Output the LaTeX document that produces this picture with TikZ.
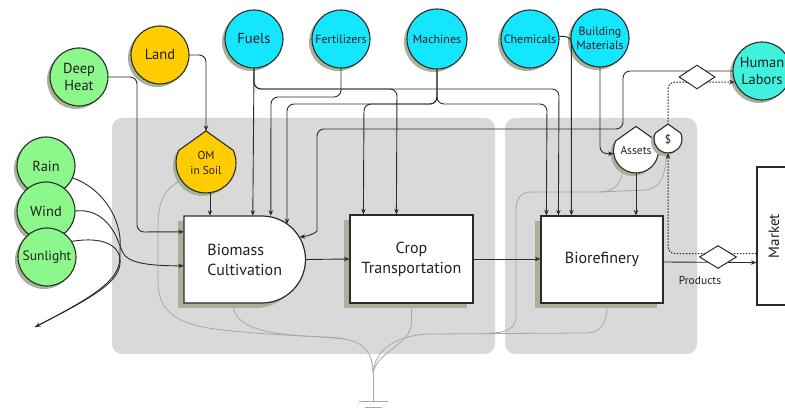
\documentclass[tikz,border=0pt]{standalone}
\usepackage{fontspec}
\setmainfont{PT Sans}
\usetikzlibrary{arrows.meta,calc,shadows,shapes.geometric}

\definecolor{lnc}{HTML}{2B2B2B}
\definecolor{txc}{HTML}{231F20}
\definecolor{grn}{HTML}{8CF88C}
\definecolor{ylw}{HTML}{FFCC00}
\definecolor{cyn}{HTML}{14E6FF}
\definecolor{hlc}{HTML}{40F2DE}
\definecolor{pnl}{HTML}{D9D9D9}
\definecolor{shc}{HTML}{A8B298}
\definecolor{gln}{HTML}{A8A8A8}

\pgfdeclarelayer{back}
\pgfdeclarelayer{mid}
\pgfsetlayers{back,mid,main}

\tikzset{
  csh/.style={drop shadow={shadow xshift=-3pt,shadow yshift=-3pt,opacity=1,fill=shc}},
  bsh/.style={drop shadow={shadow xshift=-6pt,shadow yshift=-5pt,opacity=1,fill=shc}},
  src/.style={circle,draw=lnc,line width=1.1pt,minimum size=58pt,inner sep=0pt,
    align=center,text=txc,csh},
  bigl/.style={font=\fontsize{14.5}{17.5}\selectfont},
  smalll/.style={font=\fontsize{12}{14}\selectfont},
  procbox/.style={rectangle,draw=lnc,line width=1.2pt,fill=white,inner sep=0pt,
    align=center,text=txc,font=\fontsize{16}{20}\selectfont},
  lbl/.style={inner sep=0pt,align=center,text=txc},
  flow/.style={draw=lnc,line width=0.9pt,rounded corners=7pt,
    -{Stealth[length=5.5pt,width=4.5pt]}},
  money/.style={draw=lnc,line width=1pt,dash pattern=on 1.5pt off 1.5pt,
    rounded corners=7pt,-{Stealth[length=5.5pt,width=4.5pt]}},
  heat/.style={draw=gln,line width=0.8pt},
  xchg/.style={diamond,draw=lnc,fill=white,line width=1pt,inner sep=0pt},
  tank/.style={draw=lnc,line width=1.1pt,csh}
}

% storage shape: round bottom with a pointed roof
\newcommand\tankat[4]{%
  \path[tank,fill=#4] ({#1+#3*cos(155)},{#2+#3*sin(155)})
    arc[start angle=155,end angle=385,radius=#3] -- (#1,{#2+1.07*#3}) -- cycle;}

\begin{document}
\begin{tikzpicture}[x=1pt,y=1pt]
\useasboundingbox (0,0) rectangle (785,-411);

% sector panels
\begin{pgfonlayer}{back}
  \fill[pnl,rounded corners=10pt] (112,-118) rectangle (495,-354);
  \fill[pnl,rounded corners=10pt] (505,-118) rectangle (697,-354);
\end{pgfonlayer}

% sources
\node[src,fill=grn,bigl]   (DH)    at (79,-77)  {Deep\\Heat};
\node[src,fill=ylw,bigl]   (Land)  at (160,-55) {Land};
\node[src,fill=cyn,bigl]   (Fuels) at (254,-39) {Fuels};
\node[src,fill=cyn,smalll] (Fert)  at (341,-39) {Fertilizers};
\node[src,fill=cyn,smalll,minimum size=60pt] (Mach) at (437,-39) {Machines};
\node[src,fill=cyn,smalll] (Chem)  at (530,-39) {Chemicals};
\node[src,fill=cyn,smalll] (BM)    at (600,-38) {Building\\Materials};
\node[src,fill=hlc,bigl]   (HL)    at (762,-71) {Human\\Labors};
\node[src,fill=grn,bigl]   (Rain)  at (46,-166) {Rain};
\node[src,fill=grn,bigl]   (Wind)  at (46,-211) {Wind};
\node[src,fill=grn,font=\fontsize{13.5}{15}\selectfont] (Sun) at (47,-257) {Sunlight};

% storages
\tankat{206}{-163}{30}{ylw}
\node[lbl,circle,minimum size=60pt,font=\fontsize{11.5}{15}\selectfont] (OM) at (206,-163) {OM\\in Soil};
\coordinate (OMtop) at (206,-131);
\tankat{636}{-150.5}{22.5}{white}
\node[lbl,circle,minimum size=45pt,font=\fontsize{11.5}{13}\selectfont] (Assets) at (636,-150.5) {Assets};
\tankat{668}{-139}{14}{white}
\node[lbl,circle,minimum size=28pt,font=\fontsize{11.5}{13}\selectfont] (Dollar) at (668,-139) {\$};

% processes
\path[draw=lnc,line width=1.2pt,fill=white,bsh] (184,-216) -- (262,-216)
  .. controls (286,-216) and (305.5,-235.5) .. (305.5,-259.5)
  .. controls (305.5,-283.5) and (286,-303) .. (262,-303) -- (184,-303) -- cycle;
\node[lbl,align=left,minimum width=121.5pt,minimum height=87pt,
  font=\fontsize{16}{20}\selectfont] (Bio) at (244.75,-259.5) {Biomass\\Cultivation};
\node[procbox,bsh,minimum width=123pt,minimum height=88pt] (Crop) at (411.5,-259) {Crop\\Transportation};
\node[procbox,bsh,minimum width=122pt,minimum height=87pt] (Ref) at (602,-259.5) {Biorefinery};
\node[procbox,minimum width=34pt,minimum height=138pt,font=\fontsize{15}{18}\selectfont]
  (Market) at (774,-236) {\rotatebox{90}{Market}};

% ports on the process boxes
\coordinate (bioA) at ($(Bio.north west)+(69,0)$);
\coordinate (bioB) at ($(Bio.north west)+(87,0)$);
\coordinate (bioC) at (287,-224);
\coordinate (bioD) at (299.5,-237);
\coordinate (bioE) at ($(Bio.north west)+(0,-16)$);
\coordinate (bioF) at ($(Bio.north west)+(0,-50)$);
\coordinate (cropA) at ($(Crop.north west)+(14,0)$);
\coordinate (cropB) at ($(Crop.north west)+(47,0)$);
\coordinate (refA) at ($(Ref.north west)+(6,0)$);
\coordinate (refB) at ($(Ref.north west)+(18,0)$);
\coordinate (refC) at ($(Ref.north west)+(31,0)$);
\coordinate (mktIn) at ($(Market.south west)+(0,43)$);
\coordinate (mktOut) at ($(Market.south west)+(0,52)$);
\coordinate (omOut) at ($(OM.south)+(4,0)$);
\coordinate (sink) at (35,-327);
\coordinate (gnd) at (373,-373);

% dissipation to ground
\begin{pgfonlayer}{mid}
  \draw[heat] (OM.215) .. controls (162,-190) and (158,-205) .. (158,-228)
    -- (158,-282) .. controls (158,-312) and (178,-324) .. (215,-329)
    .. controls (260,-335) and (320,-336) .. (345,-339)
    .. controls (366,-343) and (373,-355) .. (gnd);
  \draw[heat] ($(Bio.south west)+(49,0)$) .. controls (233,-318) and (245,-328) .. (275,-333)
    .. controls (310,-338) and (330,-336) .. (345,-339);
  \draw[heat] (Crop.south) -- (411.5,-322) .. controls (411.5,-345) and (378,-350) .. (gnd);
  \draw[heat] ($(Ref.south)+(5,0)$) .. controls (607,-325) and (600,-333) .. (585,-333)
    -- (430,-334) .. controls (395,-335) and (375,-350) .. (gnd);
  \draw[heat] (Assets.235) .. controls (622,-182) and (616,-191) .. (600,-192)
    -- (532,-192) .. controls (521,-192) and (516,-198) .. (516,-210)
    -- (516,-316) .. controls (516,-328) and (507,-333) .. (490,-333);
  \draw[heat] (Dollar.265) .. controls (665,-175) and (662,-188) .. (645,-190)
    -- (600,-192);
  \draw[heat] (gnd) -- (373,-401);
  \draw[heat] (359,-401) -- (388,-401);
  \draw[heat] (365,-407) -- (382,-407);
\end{pgfonlayer}

% renewable inputs
\draw[flow] (Rain.336) .. controls (106,-190) and (121,-222) .. (120,-252)
  .. controls (119,-280) and (95,-296) .. (sink);
\draw[flow] (Wind.east) .. controls (100,-208) and (113,-228) .. (120,-246)
  .. controls (127,-262) and (145,-266) .. (bioF);
\draw[draw=lnc,line width=0.9pt] (Sun.32) .. controls (104,-236) and (122,-246) .. (120,-264)
  .. controls (118,-282) and (96,-296) .. (sink);
\draw[flow] (DH.east) -| (137,-232) -- (bioE);
\draw[flow] (Land.east) -| (OMtop);
\draw[flow] (omOut) -- (omOut |- Bio.north);

% purchased inputs
\draw[flow] (Fuels.south) -- (bioA);
\draw[flow] (Fuels.south) |- (397,-89) -- (cropB);
\draw[flow] (Fuels.south) |- (559,-89) -- (refB);
\draw[flow] (Fert.south) |- (271,-97) -- (bioB);
\draw[flow] (Mach.south) |- (287,-104) -- (bioC);
\draw[flow] (Mach.south) |- (364,-104) -- (cropA);
\draw[flow] (Mach.south) |- (547,-104) -- (refA);
\draw[flow] (Chem.5) -| (refC);
\draw[flow] (BM.south) |- (Assets.188);
\draw[flow] (Assets.south) -- (Assets.south |- Ref.north);
\draw[flow] (HL.west) -| (623,-129) -| (317,-224)
  .. controls (317,-232) and (310,-236) .. (bioD);

% main chain
\draw[flow] (Bio.east) -- (Crop.west);
\draw[flow] (Crop.east) -- (Ref.west |- Crop.east);
\draw[flow] ($(Ref.east)+(0,-2.5)$) -- (mktIn);

% money flows
\draw[money] (mktOut) -| (Dollar.south);
\draw[money] (Dollar.north) |- (HL.202);

% exchanges
\node[xchg,minimum width=36pt,minimum height=24pt] (X1) at (697,-77) {};
\node[xchg,minimum width=37pt,minimum height=23pt] (X2) at (718,-257) {};
\node[lbl,font=\fontsize{11.5}{13}\selectfont] (Prod) at (700,-280) {Products};
\end{tikzpicture}
\end{document}
